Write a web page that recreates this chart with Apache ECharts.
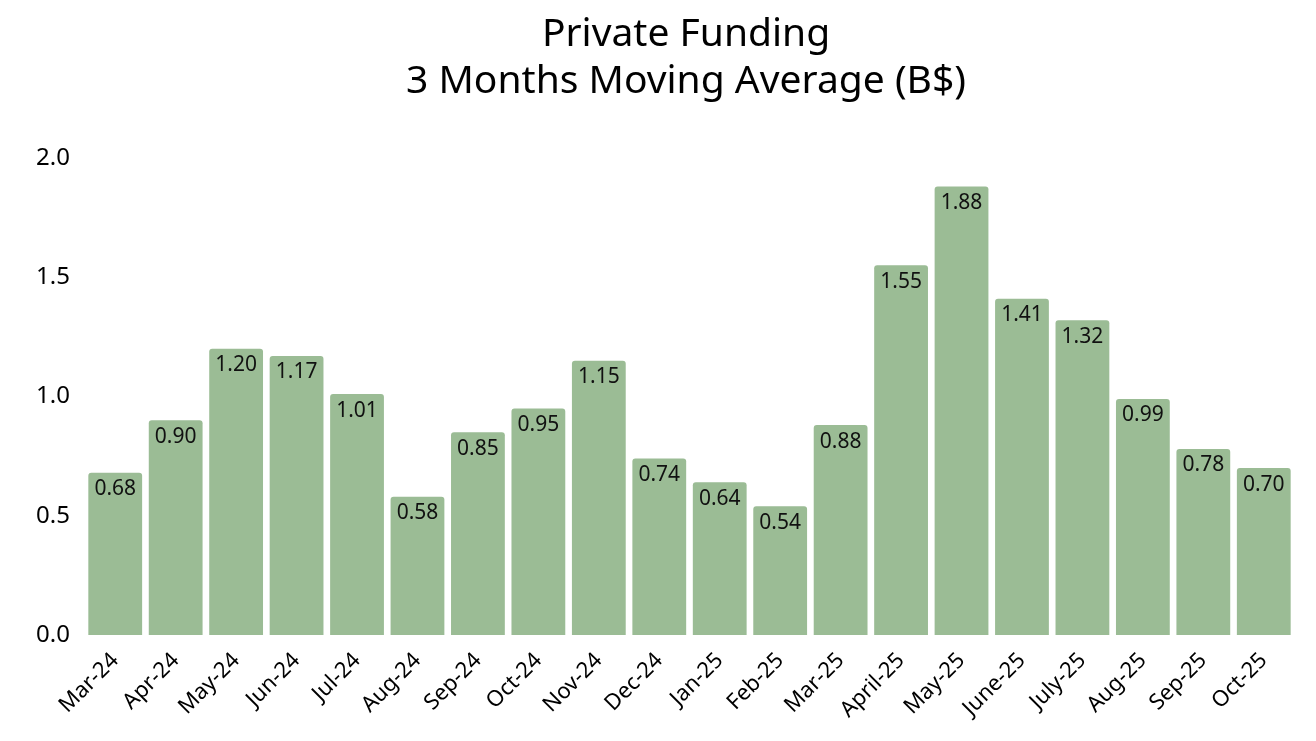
<!DOCTYPE html>
<html><head><meta charset="utf-8">
<script src="https://cdn.jsdelivr.net/npm/echarts@6/dist/echarts.min.js"></script>
<style>html,body{margin:0;padding:0;background:#fff}#c{width:1316px;height:741px}</style>
</head><body><div id="c"></div>
<script>
const categories = ["Mar-24","Apr-24","May-24","Jun-24","Jul-24","Aug-24","Sep-24","Oct-24","Nov-24","Dec-24","Jan-25","Feb-25","Mar-25","April-25","May-25","June-25","July-25","Aug-25","Sep-25","Oct-25"];
const values = [0.68,0.90,1.20,1.17,1.01,0.58,0.85,0.95,1.15,0.74,0.64,0.54,0.88,1.55,1.88,1.41,1.32,0.99,0.78,0.70];
const titleLines = ["Private Funding","3 Months Moving Average (B$)"];
const chart = echarts.init(document.getElementById('c'));
const font = "'Noto Sans', 'Open Sans', sans-serif";
chart.setOption({
  backgroundColor: '#ffffff',
  animation: false,
  title: {
    text: titleLines.join('\n'), left: 681, textAlign: 'center', top: 6,
    textStyle: {fontFamily: font, fontSize: 39, fontWeight: 'normal', color: '#000', lineHeight: 47}
  },
  grid: {left: 85, right: 22, top: 158, bottom: 106},
  xAxis: {
    type: 'category', data: categories,
    axisLine: {show: false}, axisTick: {show: false},
    axisLabel: {rotate: 45, fontFamily: font, fontSize: 22, color: '#000', margin: 22, interval: 0}
  },
  yAxis: {
    type: 'value', min: 0, max: 2, interval: 0.5,
    splitLine: {show: false}, axisLine: {show: false}, axisTick: {show: false},
    axisLabel: {fontFamily: font, fontSize: 24, color: '#000', margin: 15, formatter: v => v.toFixed(1)}
  },
  series: [{
    type: 'bar', data: values, barCategoryGap: '11%',
    itemStyle: {color: '#9bbc95', borderRadius: [3,3,0,0]},
    label: {show: true, position: 'insideTop', distance: 6, fontFamily: font, fontSize: 21, color: '#111', formatter: p => p.value.toFixed(2)}
  }]
});
</script></body></html>
